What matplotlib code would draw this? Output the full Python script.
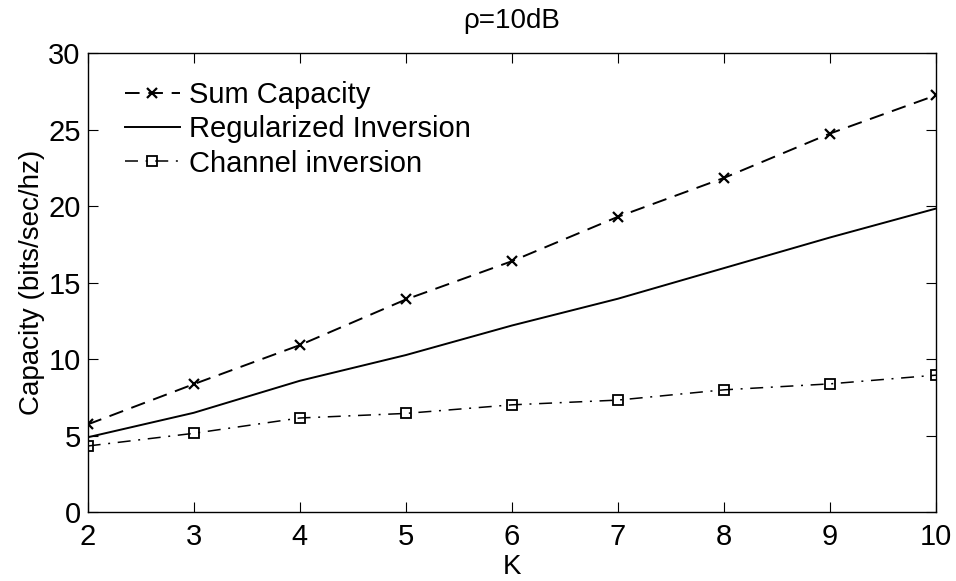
import matplotlib
matplotlib.use("Agg")
import matplotlib.pyplot as plt

plt.rcParams["font.family"] = ["Liberation Sans", "DejaVu Sans"]

# number of users K
K = [2, 3, 4, 5, 6, 7, 8, 9, 10]

# capacities in bits/sec/hz
sum_capacity = [5.74, 8.37, 10.92, 13.9, 16.4, 19.3, 21.84, 24.74, 27.24]
regularized = [4.9, 6.5, 8.59, 10.27, 12.2, 13.95, 15.95, 17.95, 19.84]
channel_inv = [4.33, 5.16, 6.16, 6.46, 7.02, 7.33, 8.0, 8.39, 8.96]

fig = plt.figure(figsize=(9.56, 5.81), dpi=100)
ax = fig.add_axes([0.0917, 0.1182, 0.8874, 0.7906])

ax.plot(K, sum_capacity, color="black", lw=1.4, ls=(0, (7.5, 4.5)),
        marker="x", ms=7, mew=1.6, label="Sum Capacity")
ax.plot(K, regularized, color="black", lw=1.4, ls="-",
        label="Regularized Inversion")
ax.plot(K, channel_inv, color="black", lw=1.1, ls=(0, (8.5, 5, 1.3, 5)),
        marker="s", ms=7.5, mfc="none", mew=1.3, label="Channel inversion")

ax.set_xlim(2, 10)
ax.set_ylim(0, 30)
ax.set_xticks(K)
ax.set_yticks([0, 5, 10, 15, 20, 25, 30])
ax.tick_params(direction="in", length=7, labelsize=21, top=True, right=True,
               pad=5)
ax.tick_params(axis="x", pad=8)
for s in ax.spines.values():
    s.set_linewidth(1.0)

ax.set_xlabel("K", fontsize=20, labelpad=2)
ax.set_ylabel("Capacity (bits/sec/hz)", fontsize=20, labelpad=2)
ax.set_title("ρ=10dB", fontsize=20, pad=18)

ax.legend(loc="upper left", frameon=False, fontsize=21, handlelength=1.9,
          handletextpad=0.3, labelspacing=0.22, borderaxespad=0.0,
          bbox_to_anchor=(0.03, 0.965))

fig.savefig("out.png", dpi=100)
